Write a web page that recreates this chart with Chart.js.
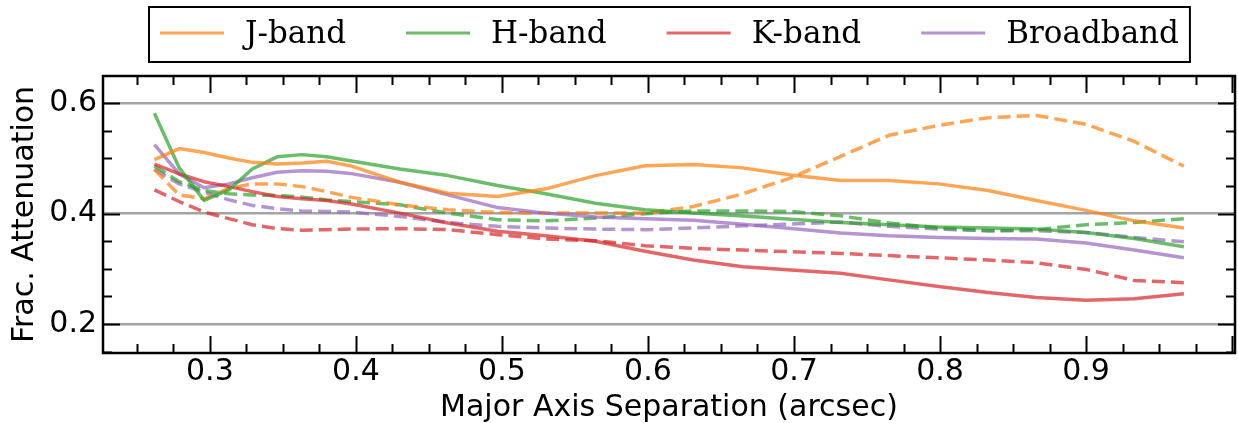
<!DOCTYPE html>
<html>
<head>
<meta charset="utf-8">
<script src="https://cdn.jsdelivr.net/npm/chart.js@4/dist/chart.umd.min.js"></script>
<style>
  html, body { margin: 0; padding: 0; background: #fff; }
  #wrap { width: 1238px; height: 423px; }
</style>
</head>
<body>
<div id="wrap"><canvas id="attenuation" width="1238" height="423"></canvas></div>
<script>
// major axis separation (arcsec), shared by every curve
const separation = [0.262, 0.279, 0.296, 0.313, 0.329, 0.346, 0.363, 0.380, 0.396, 0.430, 0.463, 0.497, 0.530,
                    0.564, 0.598, 0.631, 0.665, 0.698, 0.732, 0.765, 0.799, 0.833, 0.866, 0.900, 0.933, 0.967];

// solid curves
const jBand = [0.498, 0.518, 0.511, 0.501, 0.493, 0.490, 0.492, 0.495, 0.487, 0.457, 0.437, 0.431, 0.445,
               0.469, 0.487, 0.489, 0.483, 0.470, 0.460, 0.460, 0.454, 0.442, 0.424, 0.406, 0.387, 0.374];
const hBand = [0.582, 0.483, 0.424, 0.443, 0.481, 0.503, 0.507, 0.503, 0.496, 0.481, 0.469, 0.451, 0.436,
               0.419, 0.407, 0.401, 0.396, 0.390, 0.384, 0.380, 0.376, 0.374, 0.372, 0.366, 0.355, 0.340];
const kBand = [0.490, 0.472, 0.458, 0.449, 0.440, 0.431, 0.427, 0.424, 0.418, 0.401, 0.383, 0.368, 0.360,
               0.350, 0.332, 0.316, 0.304, 0.298, 0.292, 0.280, 0.268, 0.257, 0.248, 0.243, 0.246, 0.255];
const broadband = [0.525, 0.472, 0.447, 0.454, 0.465, 0.475, 0.478, 0.477, 0.473, 0.457, 0.434, 0.411, 0.401,
                   0.394, 0.391, 0.388, 0.381, 0.373, 0.365, 0.360, 0.357, 0.355, 0.354, 0.347, 0.334, 0.320];

// dashed curves
const jBandDashed = [0.480, 0.434, 0.427, 0.446, 0.454, 0.454, 0.449, 0.440, 0.430, 0.416, 0.407, 0.402, 0.401,
                     0.401, 0.401, 0.413, 0.436, 0.465, 0.504, 0.542, 0.560, 0.574, 0.578, 0.562, 0.531, 0.486];
const hBandDashed = [0.486, 0.458, 0.442, 0.436, 0.434, 0.433, 0.430, 0.425, 0.422, 0.416, 0.401, 0.389, 0.387,
                     0.392, 0.400, 0.405, 0.405, 0.404, 0.396, 0.383, 0.374, 0.369, 0.371, 0.380, 0.384, 0.391];
const kBandDashed = [0.443, 0.422, 0.403, 0.391, 0.380, 0.373, 0.370, 0.371, 0.372, 0.373, 0.371, 0.362, 0.354,
                     0.351, 0.342, 0.337, 0.334, 0.331, 0.328, 0.324, 0.320, 0.316, 0.311, 0.299, 0.279, 0.275];
const broadbandDashed = [0.480, 0.454, 0.439, 0.425, 0.415, 0.409, 0.405, 0.404, 0.403, 0.395, 0.384, 0.377, 0.374,
                         0.372, 0.371, 0.374, 0.378, 0.381, 0.385, 0.377, 0.372, 0.369, 0.369, 0.366, 0.357, 0.349];

const bandLabels = ['J-band', 'H-band', 'K-band', 'Broadband'];
const xTickValues = [0.3, 0.4, 0.5, 0.6, 0.7, 0.8, 0.9];
const yTickValues = [0.2, 0.4, 0.6];

const colors = ['rgba(255,127,14,0.7)', 'rgba(44,160,44,0.7)', 'rgba(214,39,40,0.7)', 'rgba(148,103,189,0.7)'];

function points(ys) {
    return separation.map((x, i) => ({x: x, y: ys[i]}));
}

let datasets = [];
[jBand, hBand, kBand, broadband].forEach((ys, i) => {
    datasets.push({label: bandLabels[i], data: points(ys), borderColor: colors[i], inLegend: true});
});
[jBandDashed, hBandDashed, kBandDashed, broadbandDashed].forEach((ys, i) => {
    datasets.push({label: bandLabels[i] + ' (dashed)', data: points(ys), borderColor: colors[i], borderDash: [13, 6]});
});

// black frame with inward ticks on all four sides
const axisFrame = {
    id: 'axisFrame',
    afterDraw(chart) {
        const ctx = chart.ctx;
        const a = chart.chartArea;
        const xs = chart.scales.x, ys = chart.scales.y;
        ctx.save();
        ctx.strokeStyle = '#000';
        ctx.lineWidth = 2;
        ctx.beginPath();
        for (let i = 9; i <= 40; i++) {
            const v = i * 0.025;
            if (v < xs.min || v > xs.max) continue;
            const len = i % 4 === 0 ? 17 : 9;
            const px = Math.round(xs.getPixelForValue(v)) + 0.5;
            ctx.moveTo(px, a.bottom); ctx.lineTo(px, a.bottom - len);
            ctx.moveTo(px, a.top); ctx.lineTo(px, a.top + len);
        }
        for (let i = 2; i <= 13; i++) {
            const v = i * 0.05;
            if (v < ys.min || v > ys.max) continue;
            const len = i % 4 === 0 ? 17 : 9;
            const py = Math.round(ys.getPixelForValue(v)) + 0.5;
            ctx.moveTo(a.left, py); ctx.lineTo(a.left + len, py);
            ctx.moveTo(a.right, py); ctx.lineTo(a.right - len, py);
        }
        ctx.stroke();
        ctx.lineWidth = 2.5;
        ctx.strokeRect(a.left, a.top, a.right - a.left, a.bottom - a.top);
        ctx.restore();
    }
};

// framed one-row legend above the plot
const bandLegend = {
    id: 'bandLegend',
    afterDraw(chart, args, opts) {
        const ctx = chart.ctx;
        ctx.save();
        ctx.font = opts.font;
        ctx.textBaseline = 'alphabetic';
        let x = opts.left + opts.inset;
        chart.data.datasets.forEach(ds => {
            if (!ds.inLegend) return;
            ctx.strokeStyle = ds.borderColor;
            ctx.lineWidth = 3;
            ctx.beginPath();
            ctx.moveTo(x, opts.lineY);
            ctx.lineTo(x + opts.lineLength, opts.lineY);
            ctx.stroke();
            x += opts.lineLength + opts.textGap;
            ctx.fillStyle = '#000';
            ctx.fillText(ds.label, x, opts.baseline);
            x += ctx.measureText(ds.label).width + opts.itemGap;
        });
        const right = x - opts.itemGap + opts.inset;
        ctx.strokeStyle = '#000';
        ctx.lineWidth = 2;
        ctx.strokeRect(opts.left, opts.top, right - opts.left, opts.bottom - opts.top);
        ctx.restore();
    }
};

new Chart('attenuation', {
    type: 'line',
    data: {datasets: datasets},
    plugins: [axisFrame, bandLegend],
    options: {
        responsive: false,
        animation: false,
        devicePixelRatio: 1,
        layout: {padding: {top: 76, right: 3, left: 0, bottom: 0}},
        elements: {
            point: {radius: 0},
            line: {borderWidth: 3.5, tension: 0, fill: false, borderJoinStyle: 'round'}
        },
        plugins: {
            legend: {display: false},
            tooltip: {enabled: false},
            bandLegend: {
                font: '31px "DejaVu Serif"', left: 149, top: 7, bottom: 62, inset: 11,
                lineY: 33, baseline: 43, lineLength: 64, textGap: 21, itemGap: 60
            }
        },
        scales: {
            x: {
                type: 'linear',
                min: 0.2268,
                max: 1.002,
                afterBuildTicks: s => { s.ticks = xTickValues.map(v => ({value: v})); },
                afterFit: s => { s.height = 70; },
                grid: {display: false, drawTicks: false},
                border: {display: false},
                ticks: {
                    autoSkip: false, maxRotation: 0, padding: 1, color: '#000',
                    font: {family: '"DejaVu Sans"', size: 30, lineHeight: 1.2},
                    callback: v => v.toFixed(1)
                },
                title: {
                    display: true, text: 'Major Axis Separation (arcsec)', color: '#000',
                    font: {family: '"DejaVu Sans"', size: 30, lineHeight: 1},
                    padding: {top: 0, bottom: 0}
                }
            },
            y: {
                min: 0.1475,
                max: 0.6495,
                afterBuildTicks: s => { s.ticks = yTickValues.map(v => ({value: v})); },
                afterFit: s => { s.width = 103; },
                grid: {color: '#a4a4a4', lineWidth: 2.5, drawTicks: false},
                border: {display: false},
                ticks: {
                    padding: 6, color: '#000',
                    font: {family: '"DejaVu Sans"', size: 30},
                    callback: v => v.toFixed(1)
                },
                title: {
                    display: true, text: 'Frac. Attenuation', color: '#000',
                    font: {family: '"DejaVu Sans"', size: 30, lineHeight: 1},
                    padding: {top: 10, bottom: 0}
                }
            }
        }
    }
});
</script>
</body>
</html>
